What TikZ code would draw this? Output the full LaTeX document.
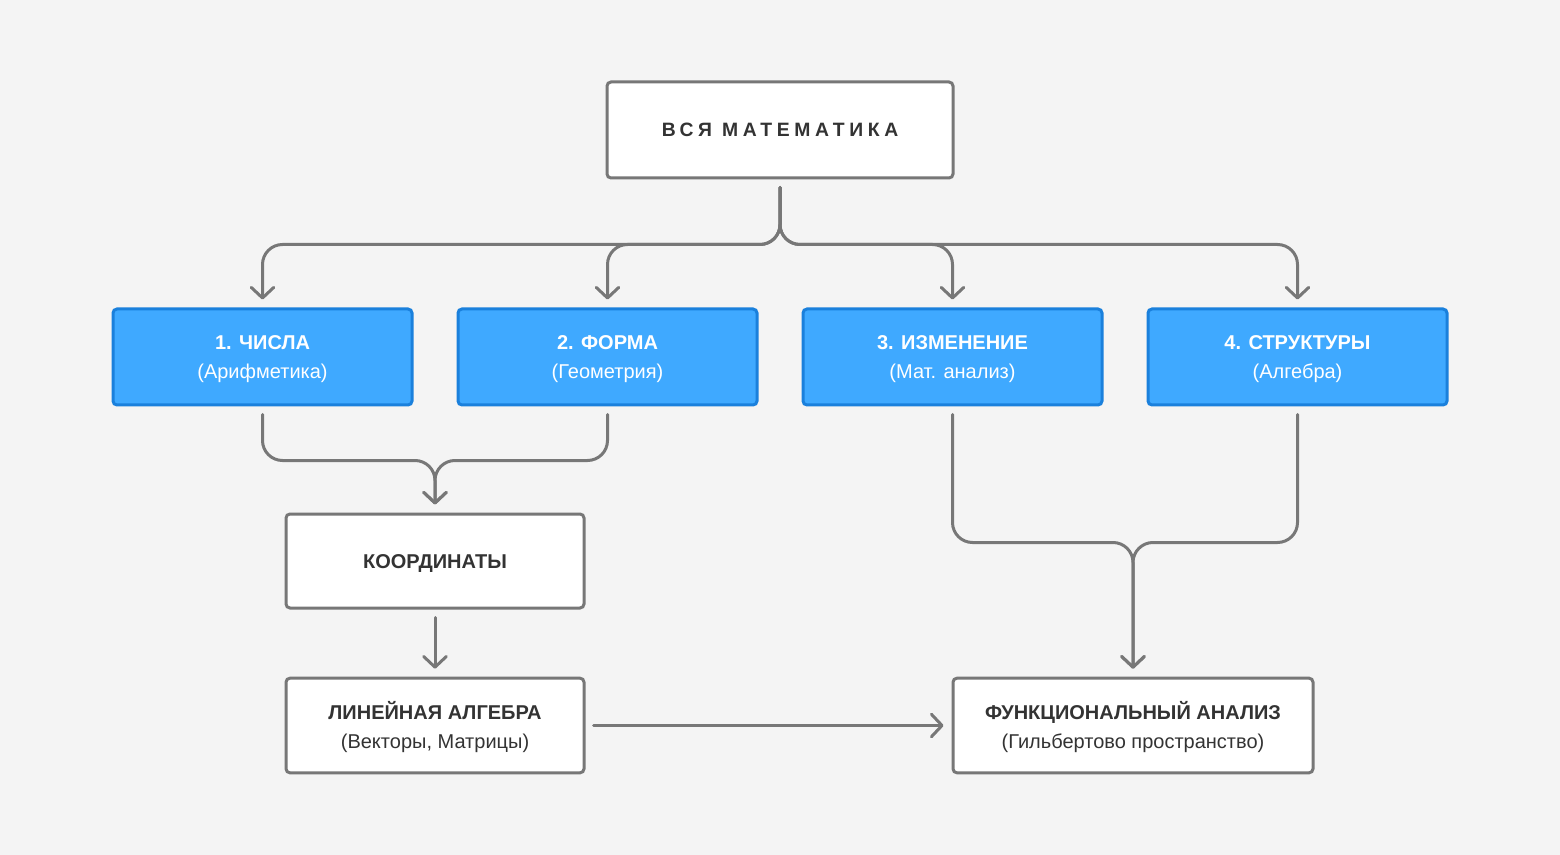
\documentclass[tikz,border=0pt]{standalone}
\usepackage{fontspec}
\setmainfont{Liberation Sans}
\newfontfamily\spacedfont[LetterSpace=24]{Liberation Sans}
\usetikzlibrary{arrows.meta}
\definecolor{bg}{HTML}{F4F4F4}
\definecolor{ln}{HTML}{777777}
\definecolor{bluefill}{HTML}{3FA9FF}
\definecolor{blueedge}{HTML}{1A80DC}
\definecolor{txt}{HTML}{333333}
\begin{document}
\begin{tikzpicture}[x=0.75pt,y=-0.75pt,
  base/.style={line width=2.25pt, rounded corners=3pt, inner sep=0pt},
  whitebox/.style={base, draw=ln, fill=white},
  bluebox/.style={base, draw=blueedge, fill=bluefill,
    minimum width=224.25pt, minimum height=72pt},
  lbl/.style={align=center, inner sep=0pt, font=\fontsize{15pt}{21.75pt}\selectfont},
  darktext/.style={lbl, text=txt},
  whitetext/.style={lbl, text=white},
  conn/.style={draw=ln, line width=2.25pt, rounded corners=15pt, line cap=round,
    -{Straight Barb[length=8pt,width=17pt,line cap=round,line join=round]}}
]
\fill[bg] (0,0) rectangle (1560,855);
\useasboundingbox (0,0) rectangle (1560,855);

\node[whitebox, minimum width=259.5pt, minimum height=72pt] (top) at (780,130) {};
\node[darktext, font=\fontsize{14.5pt}{18pt}\spacedfont\bfseries] (topt) at (top.center) {ВСЯ МАТЕМАТИКА};

\node[bluebox] (n1) at (262.5,357) {};
\node[bluebox] (n2) at (607.5,357) {};
\node[bluebox] (n3) at (952.5,357) {};
\node[bluebox] (n4) at (1297.5,357) {};
\node[whitetext] (n1t) at ([yshift=-1.8pt]n1.center) {\textbf{1. ЧИСЛА}\\(Арифметика)};
\node[whitetext] (n2t) at ([yshift=-1.8pt]n2.center) {\textbf{2. ФОРМА}\\(Геометрия)};
\node[whitetext] (n3t) at ([yshift=-1.8pt]n3.center) {\textbf{3. ИЗМЕНЕНИЕ}\\(Мат. анализ)};
\node[whitetext] (n4t) at ([yshift=-1.8pt]n4.center) {\textbf{4. СТРУКТУРЫ}\\(Алгебра)};

\node[whitebox, minimum width=223.5pt, minimum height=70.5pt] (coord) at (435,561) {};
\node[darktext] (coordt) at ([yshift=-1.6pt]coord.center) {\textbf{КООРДИНАТЫ}};
\node[whitebox, minimum width=223.5pt, minimum height=71pt] (lin) at (435,725.5) {};
\node[darktext] (lint) at ([yshift=-0.8pt]lin.center) {\textbf{ЛИНЕЙНАЯ АЛГЕБРА}\\(Векторы, Матрицы)};
\node[whitebox, minimum width=270pt, minimum height=71pt] (func) at (1133,725.5) {};
\node[darktext] (funct) at ([yshift=-0.8pt]func.center) {\textbf{ФУНКЦИОНАЛЬНЫЙ АНАЛИЗ}\\(Гильбертово пространство)};

% top split
\foreach \t in {n1,n2,n3,n4}
  \draw[conn] ([yshift=-6pt]top.south) -- ++(0,57) -| ([yshift=6pt]\t.north);

% left merge
\draw[conn] ([yshift=-6pt]n1.south) -- ++(0,46) -| ([yshift=6pt]coord.north);
\draw[conn] ([yshift=-6pt]n2.south) -- ++(0,46) -| ([yshift=6pt]coord.north);

% right merge
\draw[conn] ([yshift=-6pt]n3.south) -- ++(0,128) -| ([yshift=6pt]func.north);
\draw[conn] ([yshift=-6pt]n4.south) -- ++(0,128) -| ([yshift=6pt]func.north);

\draw[conn] ([yshift=-6pt]coord.south) -- ([yshift=6pt]lin.north);
\draw[conn] ([xshift=6pt]lin.east) -- ([xshift=-6pt]func.west);
\end{tikzpicture}
\end{document}
